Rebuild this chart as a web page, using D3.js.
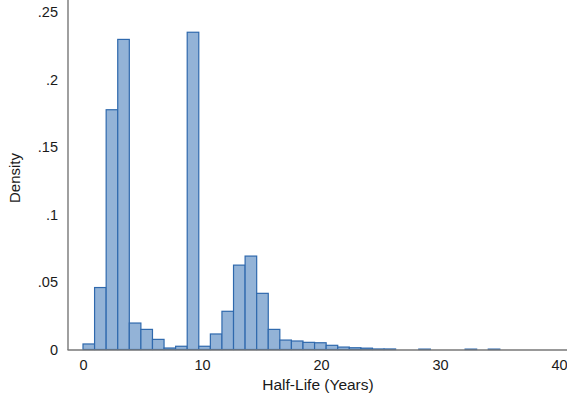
<!DOCTYPE html>
<html>
<head>
<meta charset="utf-8">
<script src="https://cdn.jsdelivr.net/npm/d3@7"></script>
<style>
  body { margin: 0; background: #fff; }
  svg text { font-family: "Liberation Sans", Arial, sans-serif; fill: #1a1a1a; }
</style>
</head>
<body>
<svg width="567" height="402"></svg>
<script>
// histogram bins: start 0, width ~0.973 years
var binStart = 0;
var binWidth = 0.973;
var density = [0.0041, 0.0459, 0.1776, 0.2297, 0.0196, 0.0149, 0.0075, 0.0011,
  0.0024, 0.2350, 0.0024, 0.0115, 0.0283, 0.0625, 0.0692, 0.0416, 0.0149, 0.0070,
  0.0063, 0.0053, 0.0050, 0.0031, 0.0018, 0.0013, 0.0010, 0.0004, 0.0004, 0,
  0, 0.0003, 0, 0, 0, 0.0003, 0, 0.0003];
var xTicks = [0, 10, 20, 30, 40];
var yTicks = [0, 0.05, 0.1, 0.15, 0.2, 0.25];
var yTickLabels = ["0", ".05", ".1", ".15", ".2", ".25"];

var svg = d3.select("svg");

var x = d3.scaleLinear().domain([0, 40]).range([83, 559]);
var y = d3.scaleLinear().domain([0, 0.25]).range([349.5, 12]);

var bins = density.map(function(d, i) {
  return { x0: binStart + i * binWidth, x1: binStart + (i + 1) * binWidth, v: d };
});

svg.append("g")
  .selectAll("rect")
  .data(bins.filter(function(b) { return b.v > 0; }))
  .enter()
  .append("rect")
  .attr("x", function(b) { return x(b.x0); })
  .attr("y", function(b) { return y(b.v); })
  .attr("width", function(b) { return x(b.x1) - x(b.x0); })
  .attr("height", function(b) { return y(0) - y(b.v); })
  .attr("fill", "#93b3d7")
  .attr("stroke", "#2f69ad")
  .attr("stroke-width", 1.2);

// axes lines
svg.append("line")
  .attr("x1", 68).attr("x2", 68).attr("y1", 0).attr("y2", 350)
  .attr("stroke", "#777").attr("stroke-width", 1.4);
svg.append("line")
  .attr("x1", 67.5).attr("x2", 567).attr("y1", 350).attr("y2", 350)
  .attr("stroke", "#777").attr("stroke-width", 1.4);

// axes labels via d3 axis, without tick lines
var xAxis = svg.append("g")
  .attr("transform", "translate(0,350)")
  .call(d3.axisBottom(x).tickValues(xTicks).tickSize(0).tickPadding(10));
xAxis.select(".domain").remove();
xAxis.selectAll("text").style("font-size", "14.5px").attr("fill", "#1a1a1a");

var yAxis = svg.append("g")
  .attr("transform", "translate(68,0)")
  .call(d3.axisLeft(y).tickValues(yTicks).tickSize(0).tickPadding(10)
    .tickFormat(function(d, i) { return yTickLabels[i]; }));
yAxis.select(".domain").remove();
yAxis.selectAll("text").style("font-size", "14.5px").attr("fill", "#1a1a1a");

svg.append("text")
  .attr("x", 318).attr("y", 390)
  .attr("text-anchor", "middle")
  .style("font-size", "15.5px")
  .text("Half-Life (Years)");

svg.append("text")
  .attr("transform", "translate(20,178) rotate(-90)")
  .attr("text-anchor", "middle")
  .style("font-size", "15px")
  .text("Density");
</script>
</body>
</html>
